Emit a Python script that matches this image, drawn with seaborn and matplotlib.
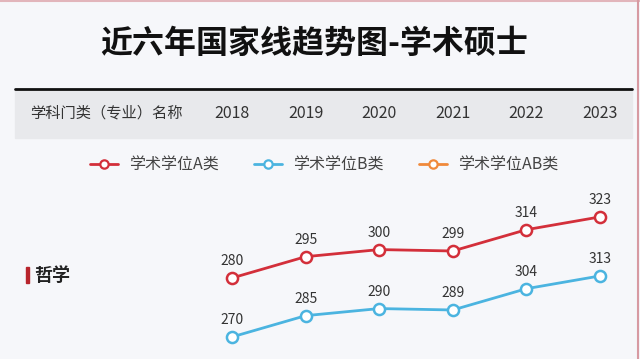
import matplotlib
matplotlib.use('Agg')
import matplotlib.pyplot as plt
import matplotlib.transforms as mtransforms
from matplotlib.lines import Line2D
from matplotlib.patches import Rectangle
import pandas as pd
import seaborn as sns

sns.set_style('white')
plt.rcParams['font.family'] = ['Noto Sans CJK SC', 'DejaVu Sans']

# data
years = ['2018', '2019', '2020', '2021', '2022', '2023']
score_a = [280, 295, 300, 299, 314, 323]
score_b = [270, 285, 290, 289, 304, 313]
series_names = ['学术学位A类', '学术学位B类', '学术学位AB类']
subject = '哲学'
header_label = '学科门类（专业）名称'
title = '近六年国家线趋势图-学术硕士'

colors = ['#d32f3a', '#4bb4e0', '#f0893a']
bg = '#f6f7fa'

df_a = pd.DataFrame({'pos': range(len(years)), 'score': score_a})
df_b = pd.DataFrame({'pos': range(len(years)), 'score': score_b})

W, H = 640, 359
fig = plt.figure(figsize=(W / 100, H / 100), dpi=100)
fig.patch.set_facecolor(bg)

# frame edges
fig.add_artist(Line2D([0, 1], [1 - 0.5 / H, 1 - 0.5 / H], color='#e2b5bb', lw=1.5))
fig.add_artist(Line2D([637.5 / W, 637.5 / W], [0, 1], color='#d79aa2', lw=1.5))

fig.text(314 / W, 1 - 44 / H, title, ha='center', va='center', fontsize=23,
         fontweight='bold', color='#111111')

# header band
fig.add_artist(Rectangle((15 / W, 1 - 138 / H), 617 / W, 48 / H,
                         transform=fig.transFigure, color='#e8e9ec', zorder=0))
fig.add_artist(Line2D([15 / W, 632 / W], [1 - 88.5 / H, 1 - 88.5 / H],
                      color='#111111', lw=2))
fig.text(106 / W, 1 - 113 / H, header_label, ha='center', va='center',
         fontsize=11, color='#333333')

ax = fig.add_axes([195.2 / W, 9 / H, 441.6 / W, 150 / H])
ax2 = ax.twinx()
for a in (ax, ax2):
    a.set_xlim(-0.5, 5.5)
    a.axis('off')
ax.set_ylim(229.3, 334.9)
ax2.set_ylim(260.8, 366.5)

hdr = mtransforms.blended_transform_factory(ax.transData, fig.transFigure)
for i, y in enumerate(years):
    ax.text(i, 1 - 113 / H, y, transform=hdr, ha='center', va='center',
            fontsize=11.5, color='#333333')

for a, df, c in ((ax, df_a, colors[0]), (ax2, df_b, colors[1])):
    sns.lineplot(data=df, x='pos', y='score', ax=a, color=c, lw=2,
                 marker='o', markersize=8, markerfacecolor='white',
                 markeredgecolor=c, markeredgewidth=1.8)
    for x, v in zip(df['pos'], df['score']):
        a.annotate(str(v), (x, v), xytext=(0, 7), textcoords='offset points',
                   ha='center', va='bottom', fontsize=10, color='#333333')
    a.axis('off')

handles = [Line2D([], [], color=c, lw=2, marker='o', markersize=6,
                  markerfacecolor='white', markeredgewidth=1.6)
           for c in colors]
fig.legend(handles, series_names, loc='center', bbox_to_anchor=(324 / W, 1 - 165 / H),
           ncol=3, frameon=False, fontsize=11.5, handlelength=1.75,
           handletextpad=0.7, columnspacing=2.2, labelcolor='#444444')

# subject label
fig.add_artist(Rectangle((26 / W, 1 - 283 / H), 3 / W, 16 / H,
                         transform=fig.transFigure, color='#b8242c'))
fig.text(34 / W, 1 - 275 / H, subject, ha='left', va='center', fontsize=13,
         fontweight='bold', color='#222222')

fig.savefig('out.png', dpi=100, facecolor=bg)
